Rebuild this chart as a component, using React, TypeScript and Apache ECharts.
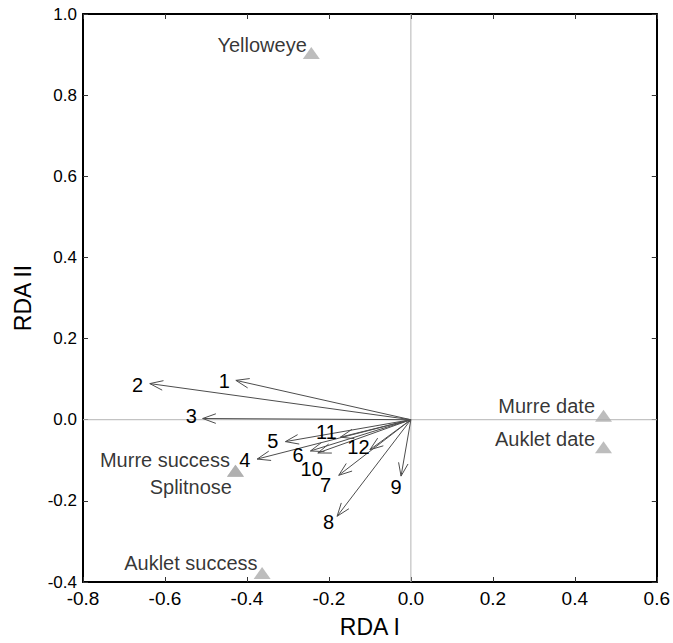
import React, { useEffect, useRef } from "react";
import * as echarts from "echarts";

// Environmental / response vectors (arrows from origin)
const arrowIds = ["1", "2", "3", "4", "5", "6", "7", "8", "9", "10", "11", "12"];
const arrowX = [-0.427, -0.637, -0.508, -0.375, -0.306, -0.245, -0.176, -0.18, -0.024, -0.227, -0.172, -0.1];
const arrowY = [0.097, 0.089, 0.003, -0.097, -0.054, -0.077, -0.137, -0.238, -0.139, -0.082, -0.043, -0.074];
// Where each number label sits (data units)
const labelX = [-0.455, -0.667, -0.536, -0.405, -0.337, -0.275, -0.208, -0.201, -0.036, -0.242, -0.206, -0.128];
const labelY = [0.095, 0.085, 0.01, -0.099, -0.053, -0.088, -0.16, -0.252, -0.167, -0.121, -0.031, -0.068];

// Triangle points
const pointNames = ["Yelloweye", "Murre date", "Auklet date", "Murre success", "Splitnose", "Auklet success"];
const pointX = [-0.243, 0.47, 0.47, -0.428, -0.428, -0.363];
const pointY = [0.904, 0.01, -0.068, -0.126, -0.126, -0.378];

// Axis ticks
const xMin = -0.8, xMax = 0.6, yMin = -0.4, yMax = 1.0, step = 0.2;

// label offsets (style)
const pointLabelOffsets: [number, number][] = [[4, -8], [0, -10], [0, -8], [3, -11], [5, 16], [4, -10]];

const FONT = "'Liberation Sans', Arial, Helvetica, sans-serif";

export default function App() {
  const ref = useRef<HTMLDivElement>(null);
  useEffect(() => {
    document.body.style.margin = "0";
    document.body.style.overflow = "hidden";
    document.documentElement.style.overflow = "hidden";
    const chart = echarts.init(ref.current!, null, { renderer: "svg" });
    const axisLine = { show: true, onZero: false, lineStyle: { color: "#000", width: 2 } };
    const axisTick = { show: true, inside: true, length: 5, lineStyle: { color: "#333", width: 1 } };
    const fmt = (v: number) => v.toFixed(1);
    const option: any = {
      animation: false,
      backgroundColor: "#fff",
      textStyle: { fontFamily: FONT },
      grid: { left: 83, top: 14, right: 13, bottom: 52, containLabel: false },
      xAxis: [
        {
          type: "value", min: xMin, max: xMax, interval: step, position: "bottom",
          axisLine, axisTick, splitLine: { show: false },
          axisLabel: { formatter: fmt, fontSize: 19, color: "#000", fontFamily: FONT, margin: 7 },
          name: "RDA I", nameLocation: "middle", nameGap: 33,
          nameTextStyle: { fontSize: 23, color: "#000", fontFamily: FONT },
        },
        {
          type: "value", min: xMin, max: xMax, interval: step, position: "top",
          axisLine, axisTick, splitLine: { show: false }, axisLabel: { show: false },
        },
      ],
      yAxis: [
        {
          type: "value", min: yMin, max: yMax, interval: step, position: "left",
          axisLine, axisTick, splitLine: { show: false },
          axisLabel: { formatter: fmt, fontSize: 17, color: "#000", fontFamily: FONT, margin: 6 },
          name: "RDA II", nameLocation: "middle", nameGap: 49,
          nameTextStyle: { fontSize: 23, color: "#000", fontFamily: FONT },
        },
        {
          type: "value", min: yMin, max: yMax, interval: step, position: "right",
          axisLine, axisTick, splitLine: { show: false }, axisLabel: { show: false },
        },
      ],
      series: [
        {
          type: "line", z: 1, symbol: "none", silent: true,
          data: [[0, yMin], [0, yMax]],
          lineStyle: { color: "#b4b4b4", width: 1 },
        },
        {
          type: "line", z: 1, symbol: "none", silent: true,
          data: [[xMin, 0], [xMax, 0]],
          lineStyle: { color: "#b4b4b4", width: 1 },
        },
        {
          type: "custom", z: 3, silent: true, clip: false,
          data: arrowX.map((x, i) => [x, arrowY[i], labelX[i], labelY[i]]),
          renderItem: (params: any, api: any) => {
            const i = params.dataIndex;
            const o = api.coord([0, 0]);
            const t = api.coord([api.value(0), api.value(1)]);
            const dx = o[0] - t[0], dy = o[1] - t[1];
            const len = Math.hypot(dx, dy) || 1;
            const ux = dx / len, uy = dy / len;
            const L = 14, a = (20 * Math.PI) / 180;
            const c = Math.cos(a), s = Math.sin(a);
            const p1 = [t[0] + L * (ux * c - uy * s), t[1] + L * (ux * s + uy * c)];
            const p2 = [t[0] + L * (ux * c + uy * s), t[1] + L * (-ux * s + uy * c)];
            const lp = api.coord([api.value(2), api.value(3)]);
            return {
              type: "group",
              children: [
                { type: "line", shape: { x1: o[0], y1: o[1], x2: t[0], y2: t[1] }, style: { stroke: "#4d4d4d", lineWidth: 1 } },
                { type: "polyline", shape: { points: [p1, t, p2] }, style: { stroke: "#4d4d4d", lineWidth: 1, fill: "none" } },
                {
                  type: "text", x: lp[0], y: lp[1],
                  style: { text: arrowIds[i], fill: "#000", fontSize: 20, fontFamily: FONT, align: "center", verticalAlign: "middle" },
                },
              ],
            };
          },
        },
        {
          type: "scatter", z: 4, silent: true,
          symbol: "triangle", symbolSize: [17, 12],
          itemStyle: { color: "#adadad" },
          data: pointNames.map((n, i) => ({
            name: n,
            value: [pointX[i], pointY[i]],
            label: {
              show: true, position: "left", distance: 0, offset: pointLabelOffsets[i],
              formatter: n, fontSize: 20, color: "#000", fontFamily: FONT,
            },
          })),
        },
      ],
    };
    chart.setOption(option);
    return () => chart.dispose();
  }, []);
  return <div ref={ref} style={{ width: 673, height: 643, overflow: "hidden" }} />;
}
